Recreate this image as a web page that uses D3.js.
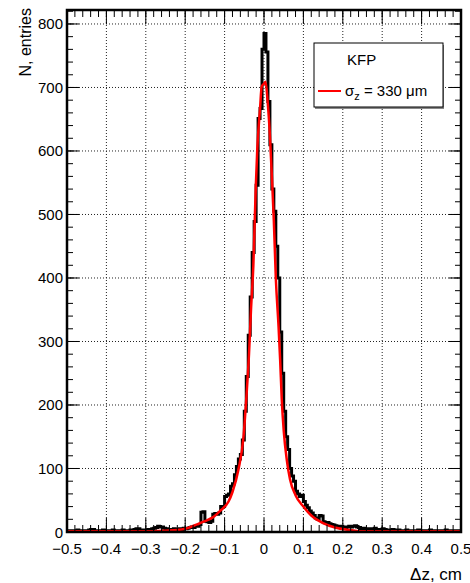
<!DOCTYPE html>
<html>
<head>
<meta charset="utf-8">
<script src="https://cdn.jsdelivr.net/npm/d3@7"></script>
<style>
  body { margin: 0; background: #fff; }
  text { font-family: "Liberation Sans", Arial, Helvetica, sans-serif; }
</style>
</head>
<body>
<div id="chart"></div>
<script>
// histogram: 200 bins of 0.005 cm from -0.5 to 0.5
const histRange = [-0.5, 0.5];
const counts = [
  2,1,2,2,1,3,2,1,2,2,
  1,3,4,4,2,1,2,2,3,1,
  2,2,1,3,2,2,1,2,3,2,
  2,1,3,2,4,5,5,3,2,3,
  2,4,3,5,6,7,9,8,8,6,
  5,4,4,3,5,4,3,5,4,6,
  5,6,7,8,7,9,9,12,31,32,
  17,16,15,17,28,29,28,30,40,40,
  56,58,60,72,76,90,103,115,122,145,
  190,245,310,370,440,489,546,651,667,760,
  785,756,678,610,540,505,450,400,315,250,
  190,150,130,100,88,80,64,60,56,58,
  48,42,38,33,30,26,22,20,26,25,
  16,14,15,13,12,11,10,9,8,9,
  8,7,8,9,8,9,10,8,7,5,
  6,5,4,5,5,4,6,4,4,3,
  5,4,3,3,2,4,3,2,3,2,
  1,2,3,2,1,2,2,1,3,2,
  2,1,2,2,3,1,2,2,1,2,
  2,1,3,2,1,2,2,1,2,1
];

// fit curve
const fitX = [-0.5, -0.3, -0.25, -0.22, -0.2, -0.17, -0.15, -0.13, -0.11, -0.09, -0.08,
  -0.065, -0.052, -0.044, -0.038, -0.033, -0.027, -0.021, -0.017, -0.01, -0.006, 0, 0.004,
  0.009, 0.014, 0.02, 0.025, 0.03, 0.037, 0.041, 0.045, 0.05, 0.058, 0.066, 0.08, 0.1,
  0.12, 0.15, 0.18, 0.22, 0.25, 0.5];
const fitY = [1, 1, 2, 3, 5, 12, 17, 23, 34, 48, 63,
  98, 150, 219, 281, 350, 420, 541, 604, 667, 701, 706, 709,
  680, 636, 560, 490, 400, 323, 271, 210, 160, 113, 83, 58, 40,
  26, 14, 7, 3, 1, 1];

const xTicks = [-0.5, -0.4, -0.3, -0.2, -0.1, 0, 0.1, 0.2, 0.3, 0.4, 0.5];
const xTickLabels = ["\u22120.5", "\u22120.4", "\u22120.3", "\u22120.2", "\u22120.1", "0", "0.1", "0.2", "0.3", "0.4", "0.5"];
const yTicks = [0, 100, 200, 300, 400, 500, 600, 700, 800];
const yTickLabels = ["0", "100", "200", "300", "400", "500", "600", "700", "800"];

const W = 470, H = 583;
const pL = 67, pR = 461, pT = 10, pB = 532;

const x = d3.scaleLinear().domain(histRange).range([pL, pR]);
const y = d3.scaleLinear().domain([0, 822]).range([pB, pT]);

const svg = d3.select("#chart").append("svg")
  .attr("width", W).attr("height", H)
  .style("background-color", "white");

svg.append("clipPath").attr("id", "plot")
  .append("rect").attr("x", pL).attr("y", pT)
  .attr("width", pR - pL).attr("height", pB - pT);

// grid
svg.append("g").selectAll("line")
  .data(xTicks.slice(1, -1)).enter().append("line")
  .attr("x1", d => x(d)).attr("x2", d => x(d))
  .attr("y1", pT).attr("y2", pB)
  .style("stroke", "#222").style("stroke-width", 1)
  .style("stroke-dasharray", "1,2");
svg.append("g").selectAll("line")
  .data(yTicks.slice(1)).enter().append("line")
  .attr("x1", pL).attr("x2", pR)
  .attr("y1", d => y(d)).attr("y2", d => y(d))
  .style("stroke", "#222").style("stroke-width", 1)
  .style("stroke-dasharray", "1,2");

// histogram outline
const bw = (histRange[1] - histRange[0]) / counts.length;
const steps = counts.map((c, i) => [histRange[0] + i * bw, c]);
steps.push([histRange[1], counts[counts.length - 1]]);
svg.append("path")
  .attr("clip-path", "url(#plot)")
  .attr("d", d3.line().x(d => x(d[0])).y(d => y(d[1])).curve(d3.curveStepAfter)(steps))
  .style("fill", "none").style("stroke", "#000").style("stroke-width", 3);

// fit
svg.append("path")
  .attr("clip-path", "url(#plot)")
  .attr("d", d3.line().x((d, i) => x(fitX[i])).y(d => y(d)).curve(d3.curveMonotoneX)(fitY))
  .style("fill", "none").style("stroke", "rgb(255,0,0)").style("stroke-width", 2.5);

// ticks on all four sides
const xMinor = d3.range(-0.5, 0.5001, 0.02);
const yMinor = d3.range(0, 821, 20);
const tickG = svg.append("g").style("stroke", "#000").style("stroke-width", 1);
function vTicks(vals, y0, len) {
  tickG.append("g").selectAll("line").data(vals).enter().append("line")
    .attr("x1", d => x(d)).attr("x2", d => x(d))
    .attr("y1", y0).attr("y2", y0 + len);
}
function hTicks(vals, x0, len) {
  tickG.append("g").selectAll("line").data(vals).enter().append("line")
    .attr("y1", d => y(d)).attr("y2", d => y(d))
    .attr("x1", x0).attr("x2", x0 + len);
}
vTicks(xMinor, pB, -7);
vTicks(xTicks, pB, -14);
vTicks(xMinor, pT, 7);
vTicks(xTicks, pT, 14);
hTicks(yMinor, pL, 6);
hTicks(yTicks, pL, 12);
hTicks(yMinor, pR, -6);
hTicks(yTicks, pR, -12);

// frame
svg.append("rect")
  .attr("x", pL).attr("y", pT)
  .attr("width", pR - pL).attr("height", pB - pT)
  .style("fill", "none").style("stroke", "#000").style("stroke-width", 2.5);

// tick labels
svg.append("g").selectAll("text")
  .data(xTicks).enter().append("text")
  .attr("x", d => x(d)).attr("y", 554)
  .attr("text-anchor", "middle")
  .style("font-size", "15px")
  .text((d, i) => xTickLabels[i]);
svg.append("g").selectAll("text")
  .data(yTicks).enter().append("text")
  .attr("x", pL - 4).attr("y", d => y(d) + 5.5)
  .attr("text-anchor", "end")
  .style("font-size", "15px")
  .text((d, i) => yTickLabels[i]);

// axis titles
svg.append("text")
  .attr("x", pR + 1).attr("y", 580)
  .attr("text-anchor", "end")
  .style("font-size", "17px")
  .text("\u0394z, cm");
svg.append("text")
  .attr("transform", "translate(31,8) rotate(-90)")
  .attr("text-anchor", "end")
  .style("font-size", "16px")
  .text("N, entries");

// legend
const lg = svg.append("g");
lg.append("rect").attr("x", 315).attr("y", 45).attr("width", 129).attr("height", 64)
  .style("fill", "#888");
lg.append("rect").attr("x", 314).attr("y", 43).attr("width", 129).attr("height", 64)
  .style("fill", "white").style("stroke", "#000").style("stroke-width", 1);
lg.append("text").attr("x", 347).attr("y", 65)
  .style("font-size", "15px").text("KFP");
lg.append("line").attr("x1", 318).attr("x2", 341).attr("y1", 91).attr("y2", 91)
  .style("stroke", "rgb(255,0,0)").style("stroke-width", 2);
const lt = lg.append("text").attr("x", 345).attr("y", 96).style("font-size", "15px");
lt.append("tspan").text("\u03c3");
lt.append("tspan").attr("dy", 4).style("font-size", "11px").text("z");
lt.append("tspan").attr("dy", -4).text(" = 330 \u03bcm");
</script>
</body>
</html>
